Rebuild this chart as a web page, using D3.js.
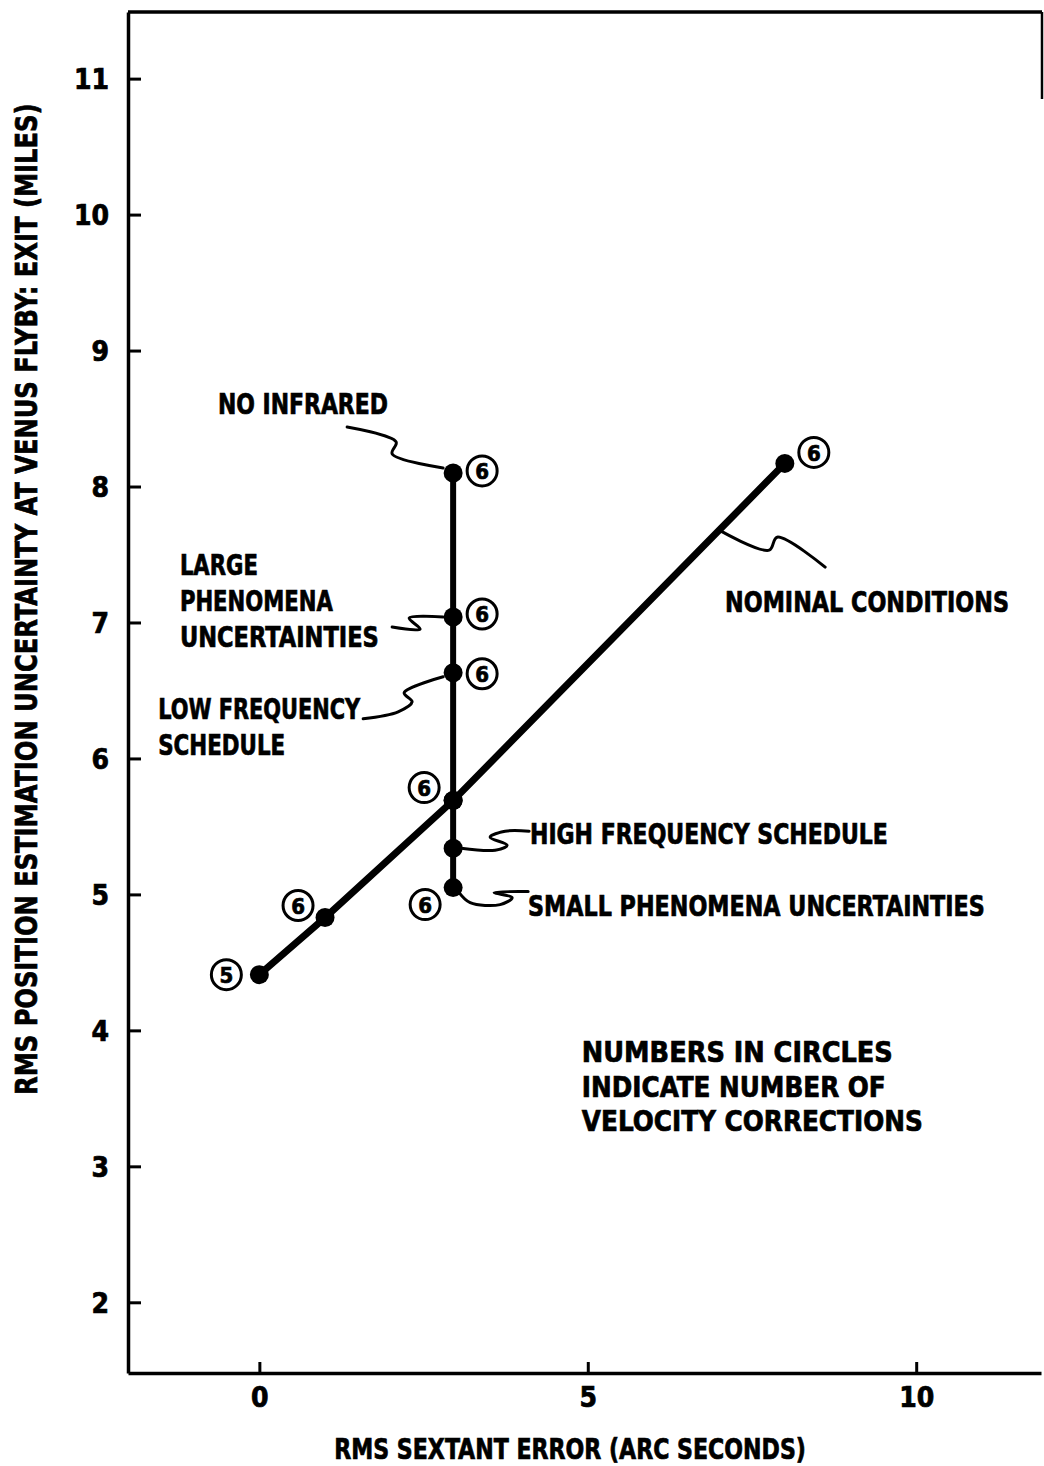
<!DOCTYPE html>
<html>
<head>
<meta charset="utf-8">
<script src="https://cdn.jsdelivr.net/npm/d3@7"></script>
<style>
  body { margin: 0; background: #fff; }
  svg text { font-family: 'Liberation Sans Narrow', 'DejaVu Sans Condensed', 'Arial Narrow', sans-serif; font-weight: bold; fill: #000; }
  svg text.heavy { stroke: #000; stroke-width: 0.7px; }
</style>
</head>
<body>
<div id="chart"></div>
<script>
// nominal conditions curve (arc seconds, miles)
const nominalX = [0, 1, 2.95, 8];
const nominalY = [4.41, 4.83, 5.69, 8.17];
const nominalCorrections = [5, 6, 6, 6];

// off-nominal cases, all at the same sextant error
const caseX = 2.95;
const caseNames = ['NO INFRARED', 'LARGE PHENOMENA UNCERTAINTIES', 'LOW FREQUENCY SCHEDULE',
                   'NOMINAL', 'HIGH FREQUENCY SCHEDULE', 'SMALL PHENOMENA UNCERTAINTIES'];
const caseY = [8.10, 7.04, 6.63, 5.69, 5.34, 5.05];
const caseCorrections = [6, 6, 6, null, null, 6];

const xTicks = [0, 5, 10];
const yTicks = [2, 3, 4, 5, 6, 7, 8, 9, 10, 11];

const xTitle = 'RMS SEXTANT ERROR (ARC SECONDS)';
const yTitle = 'RMS POSITION ESTIMATION UNCERTAINTY AT VENUS FLYBY: EXIT  (MILES)';
const noteLines = ['NUMBERS IN CIRCLES', 'INDICATE NUMBER OF', 'VELOCITY CORRECTIONS'];

const width = 1044, height = 1466;

const svg = d3.select('#chart').append('svg')
    .attr('width', width)
    .attr('height', height);

const x = d3.scaleLinear().domain([-2, 11.9]).range([128, 1041]);
const y = d3.scaleLinear().domain([1.48, 11.49]).range([1373, 12]);

// squeeze a text horizontally to a given width (lettering is condensed)
function fitText(sel, px, py, w, rot) {
    const natural = sel.node().getComputedTextLength();
    const sx = natural > 0 ? w / natural : 1;
    sel.attr('transform', `translate(${px},${py})${rot ? ` rotate(${rot})` : ''} scale(${sx},1)`);
    return sel;
}

// frame remnants at top / right
svg.append('line')
    .attr('x1', x(-2)).attr('x2', x(11.9) + 1)
    .attr('y1', y(11.49)).attr('y2', y(11.49))
    .attr('stroke', '#000').attr('stroke-width', 3.5);
svg.append('line')
    .attr('x1', x(11.9) + 1).attr('x2', x(11.9) + 1)
    .attr('y1', y(11.49)).attr('y2', y(10.85))
    .attr('stroke', '#000').attr('stroke-width', 2.5);

// axes
const yAxis = svg.append('g')
    .attr('transform', `translate(${x(-2)},0)`)
    .call(d3.axisLeft(y).tickValues(yTicks).tickSize(-13).tickSizeOuter(0).tickPadding(19).tickFormat(d3.format('d')));
const xAxis = svg.append('g')
    .attr('transform', `translate(0,${y(1.48)})`)
    .call(d3.axisBottom(x).tickValues(xTicks).tickSize(-11).tickSizeOuter(0).tickPadding(14).tickFormat(d3.format('d')));

[xAxis, yAxis].forEach(g => {
    g.select('.domain').attr('stroke', '#000').attr('stroke-width', 3.5);
    g.selectAll('.tick line').attr('stroke', '#000').attr('stroke-width', 3);
    g.selectAll('.tick text').style('font-size', '28px').attr('font-family', null).classed('heavy', true);
});
yAxis.selectAll('.tick text').attr('dy', '0.36em');

// axis titles
fitText(svg.append('text')
    .attr('class', 'heavy')
    .style('font-size', '31px')
    .text(yTitle), 37, y(3.525), 992, -90);
fitText(svg.append('text')
    .attr('class', 'heavy')
    .style('font-size', '29px')
    .text(xTitle), x(1.14), 1459, 472);

// lines
const line = d3.line().x(d => x(d[0])).y(d => y(d[1]));
const caseExtent = d3.extent(caseY);
svg.append('path')
    .datum([[caseX, caseExtent[0]], [caseX, caseExtent[1]]])
    .attr('d', line)
    .attr('fill', 'none').attr('stroke', '#000').attr('stroke-width', 6);
svg.append('path')
    .datum(nominalX.map((v, i) => [v, nominalY[i]]))
    .attr('d', line)
    .attr('fill', 'none').attr('stroke', '#000').attr('stroke-width', 7)
    .attr('stroke-linecap', 'round');

// points
const points = nominalX.map((v, i) => ({x: v, y: nominalY[i], n: nominalCorrections[i], kind: 'nom', i}))
    .concat(caseY.map((v, i) => ({x: caseX, y: v, n: caseCorrections[i], kind: 'case', i})));

svg.append('g').selectAll('circle')
    .data(points)
    .join('circle')
    .attr('cx', d => x(d.x)).attr('cy', d => y(d.y))
    .attr('r', 9.5).attr('fill', '#000');

// numbered circles: offset (px) from its point
const badgeOffset = {
    nom: [[-33, 0], [-27, -12], [-29, -13], [29, -11]],
    case: [[29, -2], [29, -3], [29, 1], null, null, [-28, 17]]
};
const badges = points.filter(d => d.n != null && badgeOffset[d.kind][d.i]);
const badge = svg.append('g').selectAll('g')
    .data(badges)
    .join('g')
    .attr('transform', d => {
        const o = badgeOffset[d.kind][d.i];
        return `translate(${x(d.x) + o[0]},${y(d.y) + o[1]})`;
    });
badge.append('circle')
    .attr('r', 15).attr('fill', '#fff').attr('stroke', '#000').attr('stroke-width', 3);
badge.append('text')
    .attr('class', 'heavy')
    .attr('text-anchor', 'middle').attr('dy', '0.37em')
    .style('font-size', '22px')
    .text(d => d.n);

// leader squiggles: offsets (px) from the anchor point
const leaders = [
    {at: [caseX, caseY[0]], path: [[-106, -46], [-57, -31], [-61, -19], [-10, -5]]},
    {at: [caseX, caseY[1]], path: [[-61, 10], [-33, 12], [-44, 1], [-10, 0]]},
    {at: [caseX, caseY[2]], path: [[-90, 46], [-55, 39], [-41, 29], [-49, 20], [-10, 4]]},
    {at: [caseX, caseY[4]], path: [[8, 0], [42, 2], [54, -3], [37, -11], [52, -17], [76, -17]]},
    {at: [caseX, caseY[5]], path: [[6, 5], [17, 15], [47, 17], [59, 10], [41, 5], [75, 4]]},
    {at: [7, nominalY[2] + (7 - nominalX[2]) * (nominalY[3] - nominalY[2]) / (nominalX[3] - nominalX[2])],
     path: [[0, 0], [50, 20], [58, 7], [106, 37]]}
];
svg.append('g').selectAll('path')
    .data(leaders)
    .join('path')
    .attr('d', d => d3.line().curve(d3.curveCatmullRom.alpha(0.5))(d.path.map(p => [x(d.at[0]) + p[0], y(d.at[1]) + p[1]])))
    .attr('fill', 'none').attr('stroke', '#000').attr('stroke-width', 3)
    .attr('stroke-linejoin', 'round').attr('stroke-linecap', 'round');

// labels: lines, anchor (data units, first baseline), line widths
const labels = [
    {lines: ['NO INFRARED'], at: [-0.63, 8.533], w: [170]},
    {lines: ['LARGE', 'PHENOMENA', 'UNCERTAINTIES'], at: [-1.21, 7.349], w: [78, 153, 199]},
    {lines: ['LOW FREQUENCY', 'SCHEDULE'], at: [-1.54, 6.29], w: [202, 127]},
    {lines: ['HIGH FREQUENCY SCHEDULE'], at: [4.12, 5.371], w: [358]},
    {lines: ['SMALL PHENOMENA UNCERTAINTIES'], at: [4.09, 4.841], w: [457]},
    {lines: ['NOMINAL CONDITIONS'], at: [7.09, 7.077], w: [284]},
    {lines: noteLines, at: [4.91, 3.767], w: [311, 304, 341], lh: 34.5}
];
const labelLayer = svg.append('g');
labels.forEach(l => {
    l.lines.forEach((s, i) => {
        fitText(labelLayer.append('text')
            .attr('class', 'heavy')
            .style('font-size', '29px')
            .text(s), x(l.at[0]), y(l.at[1]) + i * (l.lh || 36), l.w[i]);
    });
});
</script>
</body>
</html>
